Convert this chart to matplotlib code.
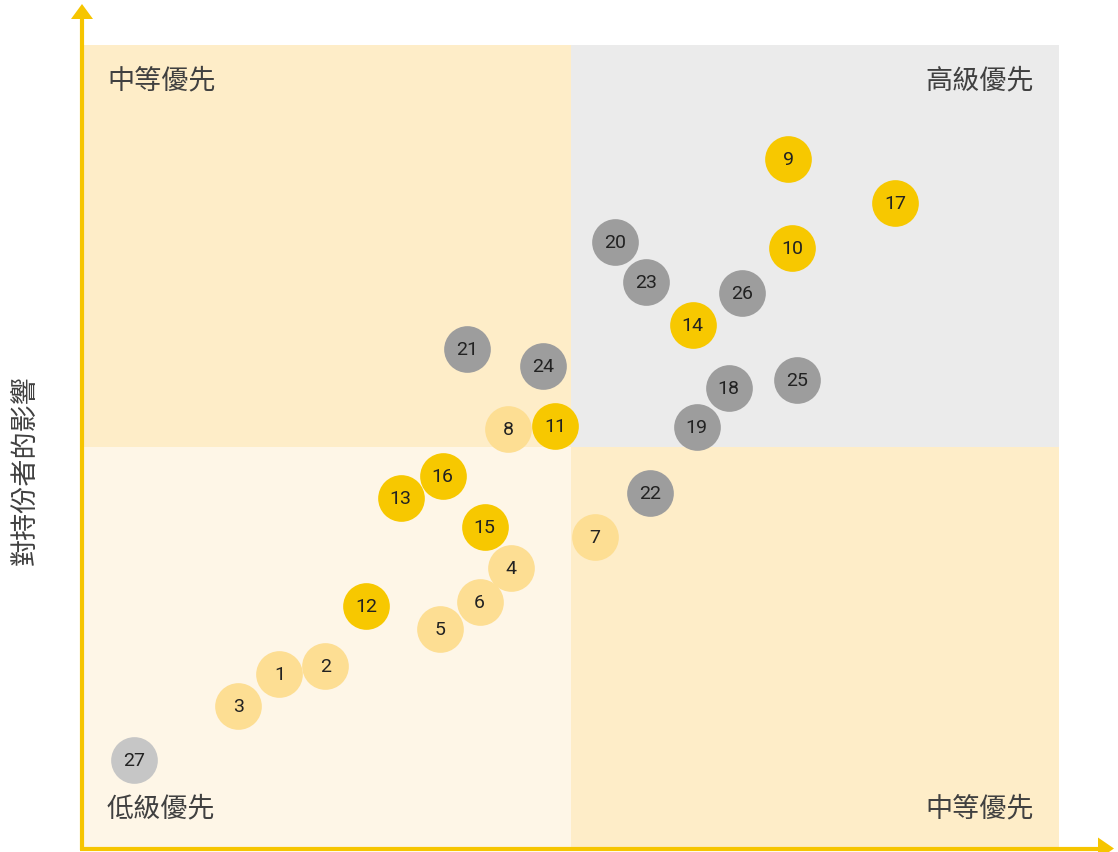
import matplotlib
matplotlib.use('Agg')
import matplotlib.pyplot as plt
from matplotlib.patches import Rectangle, Polygon
from matplotlib.lines import Line2D

# Data (axes run 0..10 with the split at 5)
labels = [str(i) for i in range(1, 28)]
xs = [2.02, 2.49, 1.60, 4.39, 3.66, 4.07, 5.25, 4.36, 7.23, 7.27,
      4.84, 2.91, 3.26, 6.25, 4.12, 3.69, 8.32, 6.62, 6.29, 5.46,
      3.94, 5.81, 5.77, 4.72, 7.32, 6.76, 0.53]
ys = [2.18, 2.28, 1.78, 3.50, 2.74, 3.07, 3.88, 5.23, 8.58, 7.47,
      5.26, 3.02, 4.36, 6.52, 4.01, 4.64, 8.04, 5.73, 5.25, 7.55,
      6.22, 4.43, 7.05, 6.01, 5.83, 6.92, 1.11]
groups = ['light'] * 8 + ['yellow'] * 9 + ['gray'] * 9 + ['lightgray']

quadrant_names = ['中等優先', '高級優先', '低級優先', '中等優先']
ylabel = '對持份者的影響'

group_colors = {'light': '#FDDE93', 'yellow': '#F7C800',
                'gray': '#9D9D9D', 'lightgray': '#C6C6C6'}
axis_color = '#F6C500'
text_color = '#404040'

plt.rcParams['font.family'] = ['Noto Sans CJK TC', 'DejaVu Sans']

W, H = 1118, 853
fig = plt.figure(figsize=(W / 100, H / 100), dpi=100)

def fx(px):
    return px / W

def fy(py):
    return 1 - py / H

ax = fig.add_axes([fx(82), fy(850), fx(1059) - fx(82), fy(46) - fy(850)])
ax.set_xlim(0, 10)
ax.set_ylim(0, 10)
ax.axis('off')

# quadrants
ax.add_patch(Rectangle((0, 5), 5, 5, color='#FEEDC8', lw=0, zorder=0))
ax.add_patch(Rectangle((5, 5), 5, 5, color='#EBEBEB', lw=0, zorder=0))
ax.add_patch(Rectangle((0, 0), 5, 5, color='#FEF6E7', lw=0, zorder=0))
ax.add_patch(Rectangle((5, 0), 5, 5, color='#FEEDC8', lw=0, zorder=0))

# bubbles
for x, y, lab, g in zip(xs, ys, labels, groups):
    ax.scatter(x, y, s=1130, color=group_colors[g], lw=0, zorder=3)
    ax.text(x, y, lab, ha='center', va='center', fontsize=14,
            color='#222222', family=['Roboto', 'DejaVu Sans'], zorder=4)

# quadrant titles
kw = dict(fontsize=19.5, color=text_color, fontweight='light', transform=fig.transFigure)
fig.text(fx(107), fy(81), quadrant_names[0], ha='left', va='center', **kw)
fig.text(fx(1034), fy(81), quadrant_names[1], ha='right', va='center', **kw)
fig.text(fx(107), fy(809), quadrant_names[2], ha='left', va='center', **kw)
fig.text(fx(1034), fy(809), quadrant_names[3], ha='right', va='center', **kw)

fig.text(fx(25), fy(470), ylabel, rotation=90, ha='center', va='center', **kw)

# axis lines with arrow heads
fig.add_artist(Line2D([fx(82), fx(82)], [fy(851), fy(18)], color=axis_color,
                      lw=3, transform=fig.transFigure, solid_capstyle='butt'))
fig.add_artist(Line2D([fx(80), fx(1100)], [fy(849.5), fy(849.5)], color=axis_color,
                      lw=3, transform=fig.transFigure, solid_capstyle='butt'))
fig.add_artist(Polygon([[fx(71), fy(20)], [fx(93), fy(20)], [fx(82), fy(5)]],
                       closed=True, color=axis_color, lw=0, transform=fig.transFigure))
fig.add_artist(Polygon([[fx(1098), fy(838.5)], [fx(1098), fy(860.5)], [fx(1114), fy(849.5)]],
                       closed=True, color=axis_color, lw=0, transform=fig.transFigure))

fig.savefig('out.png', dpi=100)
